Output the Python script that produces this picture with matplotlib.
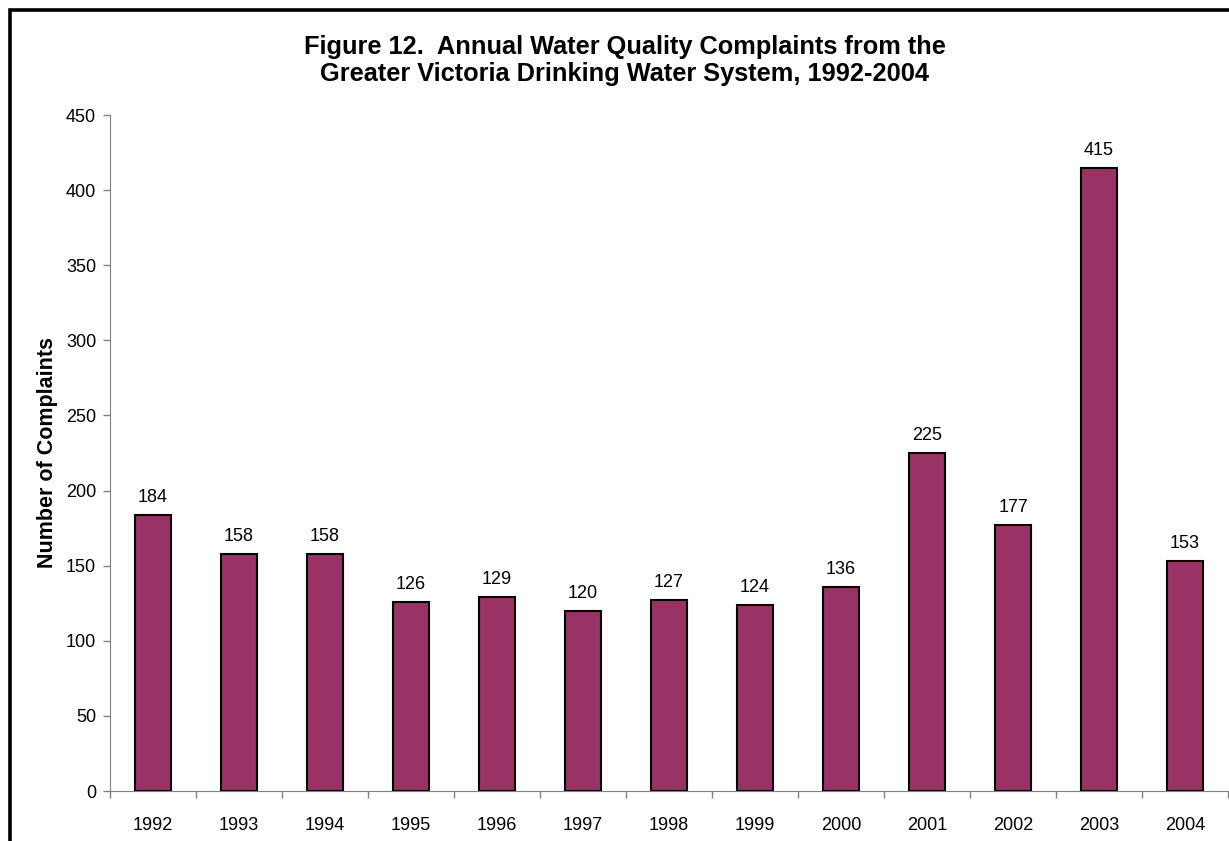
import numpy as np
import matplotlib.pyplot as plt
from matplotlib.patches import Rectangle

plt.rcParams['font.family'] = ['Liberation Sans', 'DejaVu Sans']

years = ['1992', '1993', '1994', '1995', '1996', '1997', '1998',
         '1999', '2000', '2001', '2002', '2003', '2004']
complaints = [184, 158, 158, 126, 129, 120, 127, 124, 136, 225, 177, 415, 153]

fig = plt.figure(figsize=(12.29, 8.41), dpi=100)
ax = fig.add_axes([110/1229, 50/841, 1118/1229, 676/841])

x = np.arange(len(years))
ax.bar(x, complaints, width=0.41, color='#993366', edgecolor='black', linewidth=1.5)

for xi, v in zip(x, complaints):
    ax.text(xi, v + 6, str(v), ha='center', va='bottom', fontsize=13)

ax.set_xlim(-0.5, len(years) - 0.5)
ax.set_ylim(0, 450)
ax.set_yticks(np.arange(0, 451, 50))
ax.set_xticks(x)
ax.set_xticklabels(years, fontsize=13)
ax.set_xticks(np.arange(-0.5, len(years), 1), minor=True)
ax.tick_params(axis='x', which='major', length=0, pad=19)
ax.tick_params(axis='x', which='minor', length=5, color='#808080', width=1)
ax.tick_params(axis='y', labelsize=13, length=5, color='#808080', width=1, pad=5)

for s in ['top', 'right']:
    ax.spines[s].set_visible(False)
ax.spines['left'].set_color('#808080')
ax.spines['bottom'].set_color('#808080')

ax.set_ylabel('Number of Complaints', fontsize=15.5, fontweight='bold', labelpad=6)

fig.text(625/1229, 1 - 47/841, 'Figure 12.  Annual Water Quality Complaints from the',
         ha='center', va='center', fontsize=18.3, fontweight='bold')
fig.text(625/1229, 1 - 74/841, 'Greater Victoria Drinking Water System, 1992-2004',
         ha='center', va='center', fontsize=18.3, fontweight='bold')

# frame around the chart
fig.patches.append(Rectangle((9.5/1229, -0.1), 1.2, 1 - 9.5/841 + 0.1,
                             transform=fig.transFigure, fill=False,
                             edgecolor='black', linewidth=2.6))

fig.savefig('out.png', dpi=100)
